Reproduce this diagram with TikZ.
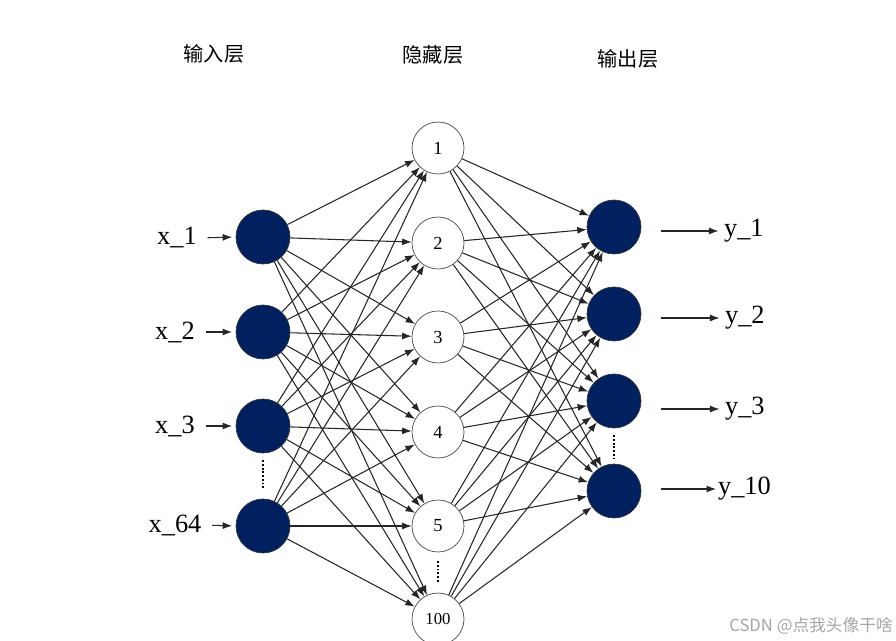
\documentclass[tikz,border=0pt]{standalone}
\usepackage{fontspec}
\setmainfont{Liberation Serif}
\newfontfamily\cjk{Noto Sans CJK SC}
\usetikzlibrary{arrows.meta, positioning}
\definecolor{navy}{RGB}{0,32,96}

\begin{document}
\begin{tikzpicture}[
    x=0.02cm, y=-0.02cm,
    arrow/.style={-{Latex[length=1.9mm,width=1.4mm]}, line width=0.6pt, draw=black!85},
    inp/.style={circle, draw=black!80, fill=navy, minimum size=1.08cm, inner sep=0pt},
    hid/.style={circle, draw=black!70, fill=white, minimum size=1.04cm, inner sep=0pt, font=\fontsize{10.5}{12}\selectfont},
    lbl/.style={font=\fontsize{15}{18}\selectfont, inner sep=1pt},
    title/.style={font=\cjk\fontsize{11.5}{14}\selectfont},
    dots/.style={densely dotted, line width=1.1pt}
]
\useasboundingbox (0,0) rectangle (896,641);

% layer titles
\node[title] (tin) at (214,54) {输入层};
\node[title] (thid) at (433,55) {隐藏层};
\node[title] (tout) at (628,59) {输出层};

% input layer
\node[inp] (in1) at (263,237) {};
\node[inp] (in2) at (263,332) {};
\node[inp] (in3) at (263,426) {};
\node[inp] (in4) at (263,526) {};

% hidden layer
\node[hid] (hd1) at (438,148) {1};
\node[hid] (hd2) at (438,243) {2};
\node[hid] (hd3) at (438,337) {3};
\node[hid] (hd4) at (438,432) {4};
\node[hid] (hd5) at (438,526) {5};
\node[hid, font=\fontsize{9.5}{11}\selectfont] (hd6) at (438,619) {100};

% output layer
\node[inp] (out1) at (614,227) {};
\node[inp] (out2) at (614,314) {};
\node[inp] (out3) at (614,401) {};
\node[inp] (out4) at (614,491) {};

% input labels
\node[lbl] (x1) at (177,238) {x\_1};
\node[lbl] (x2) at (175,332) {x\_2};
\node[lbl] (x3) at (175,426) {x\_3};
\node[lbl] (x4) at (175,525) {x\_64};

% output labels
\node[lbl, anchor=west] (y1) at (722,231) {y\_1};
\node[lbl, anchor=west] (y2) at (723,318) {y\_2};
\node[lbl, anchor=west] (y3) at (723,409) {y\_3};
\node[lbl, anchor=west] (y4) at (716,489) {y\_10};

\foreach \n in {1,...,4} {
    \draw[arrow, shorten <=5pt, shorten >=2pt] (x\n.east) -- (in\n.west);
}
\foreach \n in {1,2,3} {
    \draw[arrow, shorten <=11pt, shorten >=2pt] (out\n.east |- y\n.west) -- (y\n.west);
}
\draw[arrow, shorten <=11pt] (out4.east |- y4.west) -- (y4.west);

% full connections
\foreach \i in {1,...,4} {
    \foreach \h in {1,...,6} {
        \draw[arrow] (in\i) -- (hd\h);
    }
}
\foreach \h in {1,...,6} {
    \foreach \o in {1,...,4} {
        \draw[arrow] (hd\h) -- (out\o);
    }
}

% dots between nodes
\draw[dots, shorten <=4pt, shorten >=5pt] (in3) -- (in4);
\draw[dots, shorten <=5pt, shorten >=6pt] (hd5) -- (hd6);
\draw[dots, shorten <=4pt, shorten >=3pt] (out3) -- (out4);

\node[font=\cjk\fontsize{9.5}{11}\selectfont, text=black!35] (mark) at (811,626) {CSDN @点我头像干啥};
\end{tikzpicture}
\end{document}
